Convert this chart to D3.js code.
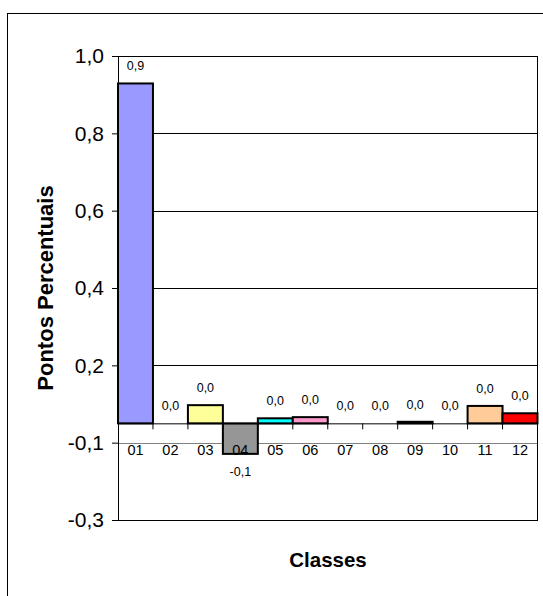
<!DOCTYPE html>
<html><head><meta charset="utf-8">
<script src="https://cdn.jsdelivr.net/npm/d3@7/dist/d3.min.js"></script>
<style>body{margin:0;background:#fff}svg{display:block}text{font-family:"Liberation Sans",Arial,sans-serif}</style>
</head><body><svg id="c" width="543" height="596"></svg>
<script>
const categories = ["01","02","03","04","05","06","07","08","09","10","11","12"];
const values = [0.879, 0, 0.047, -0.079, 0.013, 0.016, 0, 0, 0.004, 0, 0.045, 0.026];
const colors = ["#9999FF","#993366","#FFFF99","#969696","#00FFFF","#FF99CC","#800080","#FF8080","#000000","#0066CC","#FFCC99","#FF0000"];
const yTicks = [0.95, 0.75, 0.55, 0.35, 0.15, -0.05, -0.25];
const yTitle = "Pontos Percentuais";
const xTitle = "Classes";

const svg = d3.select("#c");
const L = 118, R = 537.5, T = 56, B = 520;
const x = d3.scaleBand().domain(categories).range([L, R]).padding(0);
const y = d3.scaleLinear().domain([-0.25, 0.95]).range([B, T]);
const fmt = v => { const r = Math.sign(v) * Math.round(Math.abs(v) * 10) / 10; return (r < 0 ? "-" : "") + Math.abs(r).toFixed(1).replace(".", ","); };

// outer chart border
svg.append("rect").attr("x", 7.5).attr("y", 13.5).attr("width", 600).attr("height", 600)
  .attr("fill", "none").attr("stroke", "#000").attr("stroke-width", 1);

// gridlines
svg.append("g").selectAll("line").data(yTicks.slice(1, -1)).join("line")
  .attr("x1", L).attr("x2", R)
  .attr("y1", d => Math.round(y(d)) + 0.5).attr("y2", d => Math.round(y(d)) + 0.5)
  .attr("stroke", d => d < 0 ? "#808080" : "#000").attr("stroke-width", 1);

// plot border
svg.append("rect").attr("x", L + 0.5).attr("y", T + 0.5).attr("width", R - L - 0.5).attr("height", B - T)
  .attr("fill", "none").attr("stroke", "#000").attr("stroke-width", 1);

// bars
svg.append("g").selectAll("rect").data(values.map((v, i) => ({c: categories[i], v, col: colors[i]})).filter(d => d.v !== 0)).join("rect")
  .attr("x", d => x(d.c)).attr("width", x.bandwidth())
  .attr("y", d => y(Math.max(0, d.v))).attr("height", d => Math.abs(y(d.v) - y(0)))
  .attr("fill", d => d.col).attr("stroke", "#000").attr("stroke-width", 2);

// x axis (zero line) with ticks
const xAxis = d3.axisBottom(x).tickSize(0).tickFormat("");
svg.append("g").attr("transform", `translate(0,${y(0)})`).call(xAxis)
  .call(g => g.select(".domain").attr("stroke", "#000").attr("d", `M${L},0.5H${R}`));
svg.append("g").selectAll("line").data(categories.slice(1).concat(["end"])).join("line")
  .attr("x1", (d, i) => i < 11 ? x(d) : R).attr("x2", (d, i) => i < 11 ? x(d) : R)
  .attr("y1", y(0)).attr("y2", y(0) + 6).attr("stroke", "#000");

// category labels
svg.append("g").selectAll("text").data(categories).join("text")
  .attr("x", d => x(d) + x.bandwidth() / 2).attr("y", 455)
  .attr("text-anchor", "middle").attr("font-size", 14.5).text(d => d);

// y axis
const yAxis = d3.axisLeft(y).tickValues(yTicks).tickSize(6).tickPadding(8).tickFormat(fmt);
svg.append("g").attr("transform", `translate(${L},0)`).call(yAxis)
  .call(g => { g.select(".domain").attr("stroke", "#000"); g.selectAll(".tick line").attr("stroke", "#000");
    g.selectAll("text").attr("font-size", 21).attr("font-family", '"Liberation Sans",Arial,sans-serif').attr("fill", "#000"); });

// data labels
svg.append("g").selectAll("text").data(values.map((v, i) => ({c: categories[i], v}))).join("text")
  .attr("x", d => x(d.c) + x.bandwidth() / 2)
  .attr("y", d => d.v < 0 ? y(d.v) + 22 : y(d.v) - 13)
  .attr("text-anchor", "middle").attr("font-size", 12.5).text(d => fmt(d.v));

// titles
svg.append("text").attr("transform", "translate(53,288) rotate(-90)")
  .attr("text-anchor", "middle").attr("font-weight", "bold").attr("font-size", 22).text(yTitle);
svg.append("text").attr("x", 328).attr("y", 567).attr("text-anchor", "middle")
  .attr("font-weight", "bold").attr("font-size", 20.5).text(xTitle);
</script></body></html>
